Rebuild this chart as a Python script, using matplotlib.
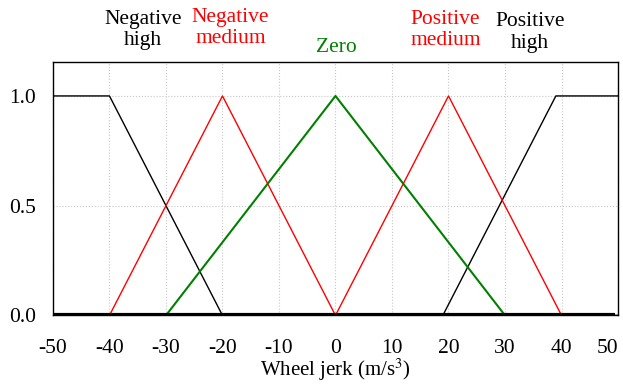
import matplotlib

matplotlib.use("Agg")
import matplotlib.pyplot as plt

# membership functions: breakpoints (x) and membership values (y)
neg_high_x = [-50, -40, -20, 50]
neg_high_y = [1.0, 1.0, 0.0, 0.0]
neg_med_x = [-40, -20, 0]
neg_med_y = [0.0, 1.0, 0.0]
zero_x = [-30, 0, 30]
zero_y = [0.0, 1.0, 0.0]
pos_med_x = [0, 20, 40]
pos_med_y = [0.0, 1.0, 0.0]
pos_high_x = [-50, 19, 39, 50]
pos_high_y = [0.0, 0.0, 1.0, 1.0]

x_ticks = [-50, -40, -30, -20, -10, 0, 10, 20, 30, 40, 50]
y_ticks = [0.0, 0.5, 1.0]

plt.rcParams["font.family"] = ["Liberation Serif", "DejaVu Serif"]
plt.rcParams["mathtext.fontset"] = "stix"

fig = plt.figure(figsize=(6.23, 3.87), dpi=100)
ax = fig.add_axes([0.085, 0.185, 0.907, 0.655])

ax.plot([-50, 49.5], [0, 0], color="black", lw=3.0, solid_capstyle="butt", zorder=4)
ax.plot(neg_high_x, neg_high_y, color="black", lw=1.0)
ax.plot(pos_high_x, pos_high_y, color="black", lw=1.0)
ax.plot(neg_med_x, neg_med_y, color="#ff0000", lw=1.0)
ax.plot(pos_med_x, pos_med_y, color="#ff0000", lw=1.0)
ax.plot(zero_x, zero_y, color="#008000", lw=1.5)

ax.set_xlim(-50, 49.5)
ax.set_ylim(0, 1.155)
ax.set_xticks(x_ticks)
ax.set_xticklabels([str(v) for v in x_ticks])
ax.get_xticklabels()[-1].set_horizontalalignment("right")
ax.set_yticks(y_ticks)
ax.set_yticklabels([f"{v:.1f}" for v in y_ticks])
ax.tick_params(length=0, labelsize=15.5)
ax.tick_params(axis="x", pad=17)
ax.tick_params(axis="y", pad=12)
ax.grid(True, color="#c8c8c8", linestyle=":", lw=0.8)
ax.set_axisbelow(True)
for s in ax.spines.values():
    s.set_linewidth(1.0)

ax.set_xlabel("Wheel jerk (m/s$^3$)", fontsize=15, labelpad=-1)

labels = [
    ("Negative\nhigh", -34, 1.30, "black"),
    ("Negative\nmedium", -18.6, 1.31, "#ff0000"),
    ("Zero", 0.2, 1.22, "#008000"),
    ("Positive\nmedium", 19.5, 1.30, "#ff0000"),
    ("Positive\nhigh", 34.4, 1.29, "black"),
]
for text, x, y, c in labels:
    ax.text(x, y, text, color=c, fontsize=15.5, ha="center", va="center",
            linespacing=1.2, clip_on=False)

fig.savefig("out.png", dpi=100)
